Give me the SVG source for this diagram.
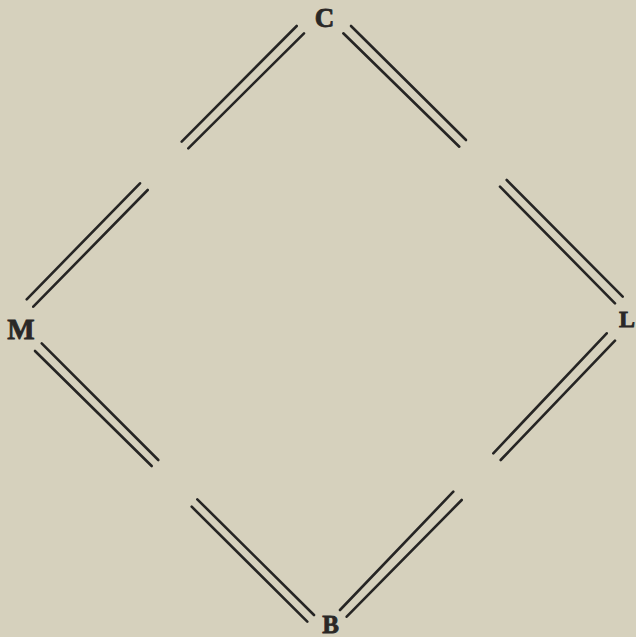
<svg xmlns="http://www.w3.org/2000/svg" width="636" height="637" viewBox="0 0 636 637">
<style>
.lbl{font-family:"Liberation Serif","DejaVu Serif",serif;font-weight:bold;fill:#2a2826;stroke:#2a2826;stroke-width:0.8;text-anchor:middle}
.ln{stroke:#262524;stroke-width:2.6;stroke-linecap:round;fill:none}
</style>
<rect width="636" height="637" fill="#d6d1bd"/>
<g id="connectors">
<line class="ln" x1="296.7" y1="26" x2="181.7" y2="141.7"/>
<line class="ln" x1="304" y1="33.3" x2="188.3" y2="148.3"/>
<line class="ln" x1="351" y1="26" x2="466" y2="140"/>
<line class="ln" x1="343.3" y1="33.3" x2="459.3" y2="146.7"/>
<line class="ln" x1="140" y1="183.3" x2="26.7" y2="299.3"/>
<line class="ln" x1="147.7" y1="190" x2="33.3" y2="306.7"/>
<line class="ln" x1="41.7" y1="343.3" x2="158.3" y2="460"/>
<line class="ln" x1="35" y1="351" x2="151.7" y2="466"/>
<line class="ln" x1="506.7" y1="180" x2="622.7" y2="296.7"/>
<line class="ln" x1="500" y1="186.7" x2="615" y2="303.3"/>
<line class="ln" x1="606.7" y1="333.3" x2="493.3" y2="453.3"/>
<line class="ln" x1="615" y1="340.7" x2="500.7" y2="460"/>
<line class="ln" x1="197.3" y1="499.3" x2="314" y2="615"/>
<line class="ln" x1="191.7" y1="506.7" x2="307.3" y2="621.7"/>
<line class="ln" x1="453.3" y1="491.7" x2="340" y2="610"/>
<line class="ln" x1="461.7" y1="500" x2="346.7" y2="616.7"/>
</g>
<g id="node-C"><text class="lbl" x="324.5" y="27" font-size="27">C</text></g>
<g id="node-M"><text class="lbl" x="21" y="339" font-size="29">M</text></g>
<g id="node-L"><text class="lbl" x="619" y="327" font-size="24" style="text-anchor:start">L</text></g>
<g id="node-B"><text class="lbl" x="330.5" y="633" font-size="25">B</text></g>
</svg>
